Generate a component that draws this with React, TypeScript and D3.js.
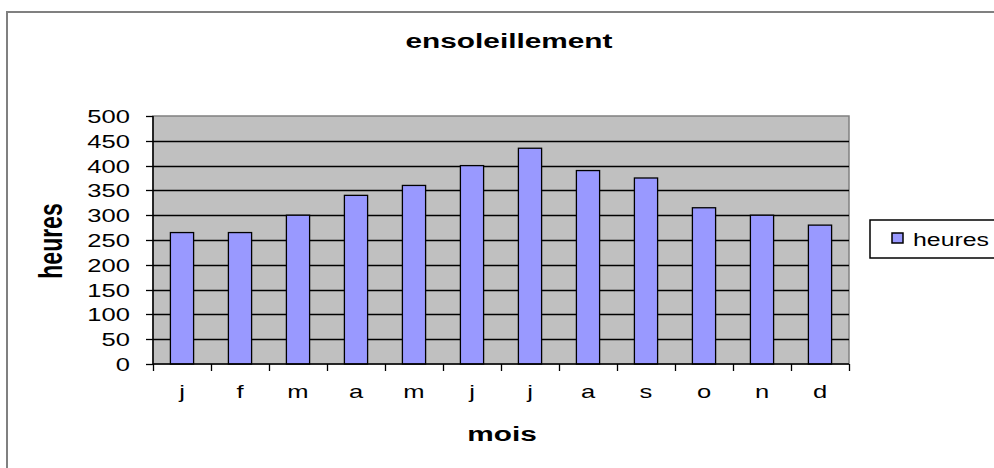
import { useEffect, useRef } from 'react';
import * as d3 from 'd3';

const MONTHS = ['j', 'f', 'm', 'a', 'm', 'j', 'j', 'a', 's', 'o', 'n', 'd'];
const HEURES = [265, 265, 300, 340, 360, 400, 435, 390, 375, 315, 300, 280];
const Y_TICKS = [0, 50, 100, 150, 200, 250, 300, 350, 400, 450, 500];

const W = 994;
const H = 468;
const PLOT = { left: 153, right: 849, top: 116, bottom: 364 };
const FONT = '"Liberation Sans", Arial, sans-serif';
// the source picture is stretched sideways, text included
const SX = 1.42;

export default function App() {
  const ref = useRef<SVGSVGElement | null>(null);

  useEffect(() => {
    if (!ref.current) return;
    const svg = d3.select(ref.current);
    svg.selectAll('*').remove();

    const label = (
      x: number,
      y: number,
      text: string,
      size: number,
      anchor: string,
      bold = false,
      rotate = 0,
    ) => {
      svg.append('text')
        .attr('transform', `translate(${x},${y}) scale(${SX},1)${rotate ? ` rotate(${rotate})` : ''}`)
        .attr('text-anchor', anchor)
        .attr('font-family', FONT)
        .attr('font-size', size)
        .attr('font-weight', bold ? 'bold' : 'normal')
        .attr('fill', '#000')
        .text(text);
    };

    svg.append('rect').attr('width', W).attr('height', H).attr('fill', '#fff');

    // outer chart border (runs off the right/bottom edge)
    svg.append('rect')
      .attr('x', 7).attr('y', 12)
      .attr('width', W + 20).attr('height', H + 20)
      .attr('fill', 'none').attr('stroke', '#808080').attr('stroke-width', 2);

    const x = d3.scaleBand<number>()
      .domain(d3.range(MONTHS.length))
      .range([PLOT.left, PLOT.right])
      .paddingInner(0.6).paddingOuter(0.3);
    const band = (PLOT.right - PLOT.left) / MONTHS.length;
    const y = d3.scaleLinear().domain([0, 500]).range([PLOT.bottom, PLOT.top]);

    // plot area
    svg.append('rect')
      .attr('x', PLOT.left).attr('y', PLOT.top)
      .attr('width', PLOT.right - PLOT.left).attr('height', PLOT.bottom - PLOT.top)
      .attr('fill', '#c0c0c0').attr('stroke', '#808080').attr('stroke-width', 1.5);

    // gridlines
    Y_TICKS.filter((t) => t > 0 && t < 500).forEach((t) => {
      svg.append('line')
        .attr('x1', PLOT.left).attr('x2', PLOT.right)
        .attr('y1', Math.round(y(t)) + 0.5).attr('y2', Math.round(y(t)) + 0.5)
        .attr('stroke', '#000').attr('stroke-width', 1.3);
    });

    // bars
    svg.append('g').selectAll('rect')
      .data(HEURES)
      .join('rect')
      .attr('x', (_, i) => x(i)!)
      .attr('y', (d) => y(d))
      .attr('width', x.bandwidth())
      .attr('height', (d) => y(0) - y(d))
      .attr('fill', '#9999ff')
      .attr('stroke', '#000')
      .attr('stroke-width', 1.3);

    // y axis
    svg.append('line')
      .attr('x1', PLOT.left).attr('x2', PLOT.left)
      .attr('y1', PLOT.top).attr('y2', PLOT.bottom)
      .attr('stroke', '#000').attr('stroke-width', 1.5);
    Y_TICKS.forEach((t) => {
      const yy = Math.round(y(t)) + 0.5;
      svg.append('line')
        .attr('x1', PLOT.left - 7).attr('x2', PLOT.left)
        .attr('y1', yy).attr('y2', yy)
        .attr('stroke', '#000').attr('stroke-width', 1.3);
      label(130, yy + 6.5, String(t), 18, 'end');
    });

    // x axis
    svg.append('line')
      .attr('x1', PLOT.left).attr('x2', PLOT.right)
      .attr('y1', PLOT.bottom).attr('y2', PLOT.bottom)
      .attr('stroke', '#000').attr('stroke-width', 1.5);
    d3.range(MONTHS.length + 1).forEach((i) => {
      const xx = Math.round(PLOT.left + i * band) + 0.5;
      svg.append('line')
        .attr('x1', xx).attr('x2', xx)
        .attr('y1', PLOT.bottom).attr('y2', PLOT.bottom + 7)
        .attr('stroke', '#000').attr('stroke-width', 1.3);
    });
    MONTHS.forEach((m, i) => {
      label(x(i)! + x.bandwidth() / 2, 398, m, 18, 'middle');
    });

    // titles
    label(509, 48, 'ensoleillement', 21, 'middle', true);
    label(502, 441, 'mois', 21, 'middle', true);
    label(62, 241, 'heures', 23, 'middle', true, -90);

    // legend
    svg.append('rect')
      .attr('x', 870).attr('y', 220).attr('width', 140).attr('height', 38)
      .attr('fill', '#fff').attr('stroke', '#000').attr('stroke-width', 1.5);
    svg.append('rect')
      .attr('x', 892).attr('y', 233).attr('width', 11).attr('height', 10)
      .attr('fill', '#9999ff').attr('stroke', '#000').attr('stroke-width', 1.5);
    label(913, 246, 'heures', 17.5, 'start');
  }, []);

  return (
    <svg
      ref={ref}
      width={W}
      height={H}
      style={{ position: 'fixed', left: 0, top: 0, display: 'block' }}
    />
  );
}
